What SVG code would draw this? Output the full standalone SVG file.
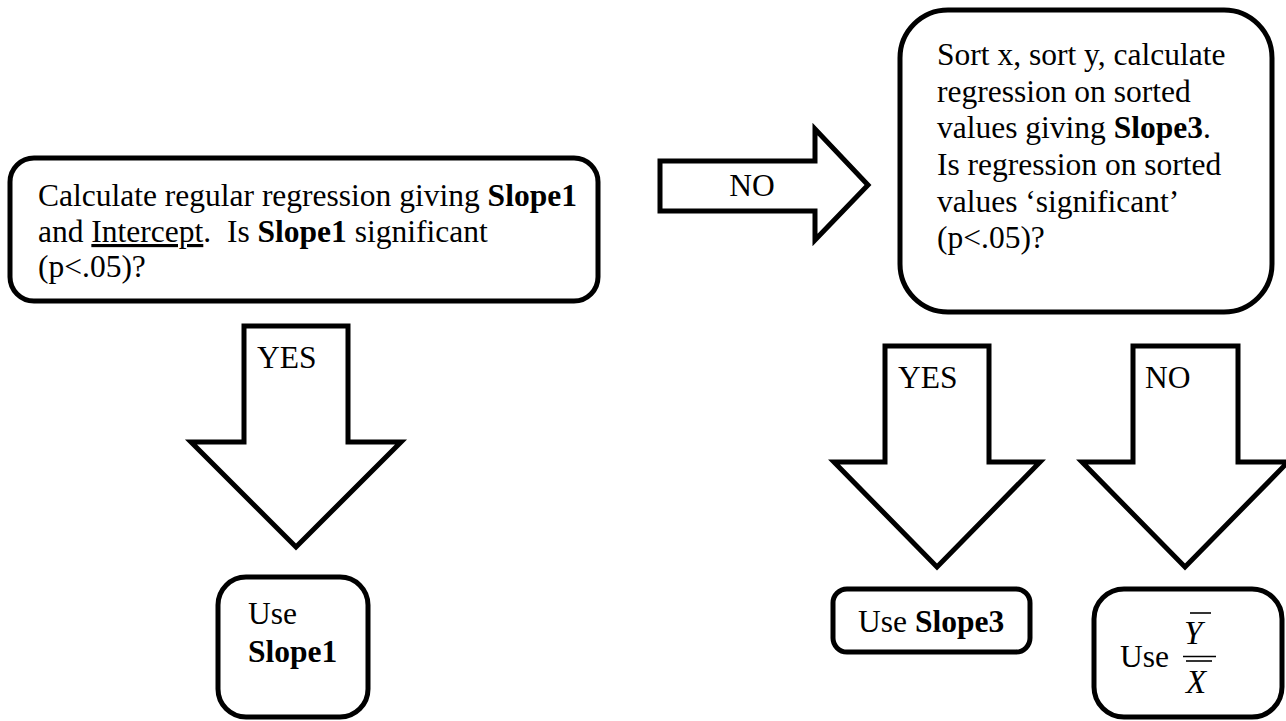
<svg xmlns="http://www.w3.org/2000/svg" width="1286" height="721" viewBox="0 0 1286 721">
<style>
.box{fill:#fff;stroke:#000;stroke-width:5}
.arr{fill:#fff;stroke:#000;stroke-width:5;stroke-linejoin:miter}
text{font-family:"Liberation Serif","Times New Roman",serif;font-size:31.5px;fill:#000}
.b{font-weight:bold}
.i{font-style:italic;font-size:33px}
.bar{stroke:#000;stroke-width:1.6}
</style>
<rect width="1286" height="721" fill="#fff"/>
<g id="connectors">
<g id="arrow-no-right">
<polygon class="arr" points="660,161 815,161 815,129 868,185 815,240 815,211 660,211"/>
<text x="752" y="196" text-anchor="middle">NO</text>
</g>
<g id="arrow-yes-left">
<polygon class="arr" points="244,326 348,326 348,442 401,442 296,547 191,442 244,442"/>
<text x="257" y="368">YES</text>
</g>
<g id="arrow-yes-right">
<polygon class="arr" points="885,346 989,346 989,462 1040,462 937,567 834,462 885,462"/>
<text x="898" y="388">YES</text>
</g>
<g id="arrow-no-down">
<polygon class="arr" points="1133,346 1238,346 1238,462 1288,462 1185,567 1082,462 1133,462"/>
<text x="1145" y="388">NO</text>
</g>
</g>
<g id="node-regression">
<rect class="box" x="10" y="158" width="588" height="143" rx="24"/>
<text x="38" y="206">Calculate regular regression giving <tspan class="b">Slope1</tspan></text>
<text x="38" y="242">and <tspan text-decoration="underline">Intercept</tspan>.&#160; Is <tspan class="b">Slope1</tspan> significant</text>
<text x="38" y="277">(p&lt;.05)?</text>
</g>
<g id="node-sorted">
<rect class="box" x="900" y="10" width="372" height="302" rx="48"/>
<text x="937" y="65">Sort x, sort y, calculate</text>
<text x="937" y="102">regression on sorted</text>
<text x="937" y="138">values giving <tspan class="b">Slope3</tspan>.</text>
<text x="937" y="175">Is regression on sorted</text>
<text x="937" y="212">values ‘significant’</text>
<text x="937" y="248">(p&lt;.05)?</text>
</g>
<g id="node-use-slope1">
<rect class="box" x="218" y="577" width="150" height="140" rx="28"/>
<text x="248" y="624">Use</text>
<text x="248" y="662" class="b">Slope1</text>
</g>
<g id="node-use-slope3">
<rect class="box" x="833" y="589" width="197" height="63" rx="14"/>
<text x="858" y="632">Use <tspan class="b">Slope3</tspan></text>
</g>
<g id="node-use-ratio">
<rect class="box" x="1094" y="589" width="188" height="128" rx="30"/>
<text x="1120" y="667">Use</text>
<line class="bar" x1="1190" y1="613" x2="1211" y2="613"/>
<text x="1184" y="644" class="i">Y</text>
<line class="bar" x1="1183" y1="656.5" x2="1216" y2="656.5"/>
<line class="bar" x1="1186" y1="661" x2="1212" y2="661"/>
<text x="1186" y="693" class="i">X</text>
</g>
</svg>
